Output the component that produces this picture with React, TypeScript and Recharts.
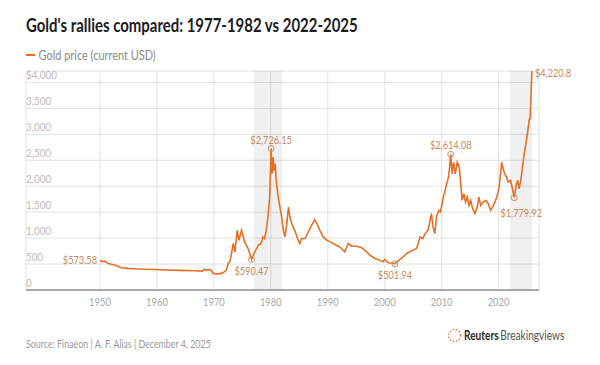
import React from 'react';
import { LineChart, Line, XAxis, YAxis, CartesianGrid, ReferenceArea, ReferenceDot } from 'recharts';

const years = [
  1950.0, 1950.4, 1950.8, 1951.4, 1952.0, 1952.6, 1953.2, 1953.8, 1954.9, 1956.0,
  1958.0, 1960.8, 1962.0, 1964.0, 1966.6, 1968.0, 1968.3, 1968.7, 1969.1, 1969.5,
  1969.9, 1970.7, 1971.6, 1972.2, 1972.5, 1972.8, 1973.1, 1973.4, 1973.7, 1974.1,
  1974.4, 1974.85, 1975.1, 1975.4, 1976.0, 1976.3, 1976.6, 1977.0, 1977.2, 1977.5,
  1977.8, 1978.1, 1978.4, 1978.6, 1978.9, 1979.2, 1979.5, 1979.8, 1980.05, 1980.2,
  1980.4, 1980.55, 1980.75, 1981.0, 1981.3, 1981.6, 1981.9, 1982.2, 1982.5, 1982.8,
  1983.1, 1983.35, 1983.6, 1983.9, 1984.2, 1984.5, 1984.8, 1985.1, 1985.4, 1986.0,
  1986.3, 1986.7, 1987.15, 1987.7, 1988.1, 1988.6, 1989.2, 1989.8, 1990.4, 1990.95,
  1991.5, 1992.1, 1992.4, 1993.0, 1993.6, 1994.2, 1995.1, 1995.9, 1996.5, 1997.4,
  1998.3, 1999.1, 1999.7, 2000.0, 2000.6, 2001.2, 2001.8, 2002.1, 2002.7, 2003.25,
  2003.85, 2004.4, 2005.0, 2005.6, 2005.9, 2006.2, 2006.7, 2007.1, 2007.6, 2007.9,
  2008.2, 2008.5, 2008.8, 2009.1, 2009.5, 2009.8, 2010.3, 2010.75, 2011.2, 2011.4,
  2011.6, 2011.85, 2012.1, 2012.4, 2012.75, 2013.1, 2013.3, 2013.6, 2013.9, 2014.2,
  2014.5, 2014.8, 2015.1, 2015.45, 2015.85, 2016.25, 2016.55, 2016.85, 2017.3, 2017.8,
  2018.2, 2018.6, 2019.1, 2019.7, 2020.1, 2020.55, 2020.8, 2021.1, 2021.4, 2021.7,
  2022.1, 2022.45, 2022.75, 2023.15, 2023.35, 2023.6, 2023.9, 2024.2, 2024.5, 2024.8,
  2025.1, 2025.4, 2025.55, 2025.7, 2025.85,
];

const prices = [
  573.58, 545, 556, 512, 495, 480, 455, 428, 416, 410,
  400, 390, 385, 378, 371, 365, 400, 380, 397, 380,
  320, 307, 332, 384, 512, 543, 704, 896, 735, 1151,
  960, 1151, 1055, 927, 800, 700, 590.47, 690, 735, 800,
  864, 880, 927, 1023, 992, 1151, 1407, 1791, 2726.15, 2239,
  2558, 2303, 2431, 2047, 1791, 1599, 1407, 1151, 1023, 1280,
  1599, 1407, 1311, 1215, 1151, 1055, 960, 896, 992, 992,
  1055, 1151, 1247, 1356, 1280, 1151, 1023, 960, 927, 896,
  864, 831, 800, 735, 896, 844, 844, 819, 768, 672,
  608, 576, 543, 589, 524, 520, 501.94, 543, 589, 640,
  704, 735, 768, 800, 896, 1023, 992, 1087, 1151, 1300,
  1471, 1215, 1087, 1407, 1535, 1503, 1791, 1983, 2175, 2367,
  2614.08, 2239, 2462, 2239, 2462, 2367, 2111, 1727, 1855, 1695,
  1791, 1631, 1727, 1567, 1471, 1599, 1791, 1631, 1695, 1727,
  1663, 1535, 1631, 1791, 1983, 2462, 2335, 2239, 2175, 2079,
  2111, 1951, 1779.92, 2047, 2111, 1951, 2111, 2367, 2623, 2815,
  3038, 3295, 3300, 3775, 4220.8,
];

const xTicks = [1950, 1960, 1970, 1980, 1990, 2000, 2010, 2020];
const yTicks = [0, 500, 1000, 1500, 2000, 2500, 3000, 3500, 4000];
const rallyStarts = [1977, 2022];
const rallyEnds = [1982, 2025.9];

const noteYears = [1950.0, 1976.6, 1980.05, 2001.8, 2011.6, 2022.75, 2025.85];
const noteValues = [573.58, 590.47, 2726.15, 501.94, 2614.08, 1779.92, 4220.8];
const noteLabels = ['$573.58', '$590.47', '$2,726.15', '$501.94', '$2,614.08', '$1,779.92', '$4,220.8'];

// placement styles for each annotation (pixel offsets relative to the point)
const notePlacement = [
  { anchor: 'end', dx: -3, dy: 4, ring: false },
  { anchor: 'middle', dx: 0, dy: 16, ring: true },
  { anchor: 'middle', dx: 0, dy: -5, ring: true },
  { anchor: 'middle', dx: 0, dy: 15, ring: true },
  { anchor: 'middle', dx: 0, dy: -5, ring: true },
  { anchor: 'middle', dx: 7, dy: 19, ring: true },
  { anchor: 'start', dx: 3, dy: 6, ring: false },
];

const data = years.map((y, i) => ({ year: y, price: prices[i] }));

const FONT = "Lato, 'Noto Sans', sans-serif";
const LINE = '#e46f25';
const NOTE = '#c98b62';
const PLOT_LEFT = 26;

const fmtY = (v: number) => (v === 4000 ? '$4,000' : v === 0 ? '0' : v.toLocaleString('en-US'));

const NarrowText = ({ x, y, anchor = 'start', fill, size, sx = 0.86, weight = 400, children }: any) => (
  <g transform={`translate(${x},${y}) scale(${sx},1)`}>
    <text x={0} y={0} fill={fill} fontSize={size} fontWeight={weight} fontFamily={FONT} textAnchor={anchor}>
      {children}
    </text>
  </g>
);

const YTick = (props: any) => {
  const { y, payload } = props;
  return (
    <NarrowText x={PLOT_LEFT} y={y - 3} fill="#bdbdbd" size={11.5}>
      {fmtY(payload.value)}
    </NarrowText>
  );
};

const XTick = (props: any) => {
  const { x, y, payload } = props;
  return (
    <NarrowText x={x} y={y + 16} fill="#a8a8a8" size={11.5} sx={0.82} anchor="middle">
      {payload.value}
    </NarrowText>
  );
};

const makeShape = (i: number) => (p: any) => {
  const pl = notePlacement[i];
  return (
    <g>
      {pl.ring && <circle cx={p.cx} cy={p.cy} r={3} fill="none" stroke={NOTE} strokeWidth={1} />}
      <NarrowText x={p.cx + pl.dx} y={p.cy + pl.dy} fill={NOTE} size={11.5} sx={0.8} anchor={pl.anchor}>
        {noteLabels[i]}
      </NarrowText>
    </g>
  );
};

const squeeze = (s: number): React.CSSProperties => ({ transform: `scaleX(${s})`, transformOrigin: 'left center' });

export default function App() {
  return (
    <div style={{ position: 'absolute', left: 0, top: 0, width: 600, height: 365, background: '#fff', fontFamily: FONT }}>
      <LineChart width={600} height={365} data={data} margin={{ top: 71, right: 61, bottom: 55, left: 0 }}>
        {rallyStarts.map((s, i) => (
          <ReferenceArea key={'r' + i} x1={s} x2={rallyEnds[i]} fill="#000" fillOpacity={0.06} stroke="none" ifOverflow="hidden" />
        ))}
        <CartesianGrid stroke="#e2e2e2" strokeWidth={1} />
        <XAxis
          dataKey="year"
          type="number"
          domain={[1937, 2027.1]}
          ticks={xTicks}
          allowDataOverflow
          axisLine={{ stroke: '#a9a9a9', strokeWidth: 2 }}
          tickLine={false}
          tickSize={0}
          tickMargin={0}
          height={20}
          tick={<XTick />}
        />
        <YAxis
          type="number"
          domain={[0, 4220.8]}
          ticks={yTicks}
          width={PLOT_LEFT}
          axisLine={false}
          tickLine={false}
          tick={<YTick />}
          interval={0}
          allowDataOverflow
        />
        <Line type="linear" dataKey="price" stroke={LINE} strokeWidth={1.6} dot={false} isAnimationActive={false} />
        {noteYears.map((yr, i) => (
          <ReferenceDot key={'n' + i} x={yr} y={noteValues[i]} r={3} shape={makeShape(i)} ifOverflow="visible" />
        ))}
      </LineChart>

      <div style={{ position: 'absolute', left: 26, top: 14, fontSize: 18, fontWeight: 700, color: '#1b1b1b', whiteSpace: 'nowrap', ...squeeze(0.83) }}>
        Gold's rallies compared: 1977-1982 vs 2022-2025
      </div>
      <div style={{ position: 'absolute', left: 26, top: 47, display: 'flex', alignItems: 'center', fontSize: 13, color: '#8a8a8a', whiteSpace: 'nowrap', ...squeeze(0.84) }}>
        <span style={{ display: 'inline-block', width: 11, height: 2, background: LINE, marginRight: 4 }} />
        Gold price (current USD)
      </div>
      <div style={{ position: 'absolute', left: 26, top: 337, fontSize: 11.5, color: '#9a9a9a', whiteSpace: 'nowrap', ...squeeze(0.77) }}>
        Source: Finaeon | A. F. Alias | December 4, 2025
      </div>
      <div style={{ position: 'absolute', left: 447, top: 327, display: 'flex', alignItems: 'center', whiteSpace: 'nowrap', fontSize: 13 }}>
        <svg width={15} height={15} style={{ marginRight: 2 }}>
          <circle cx={7.5} cy={7.5} r={6} fill="none" stroke="#e46f25" strokeWidth={1.6} strokeDasharray="1.2 2" />
        </svg>
        <span style={{ display: 'inline-block', ...squeeze(0.78) }}>
          <span style={{ fontWeight: 700, color: '#2a2a2a' }}>Reuters</span>
          <span style={{ color: '#555', marginLeft: 2 }}>Breakingviews</span>
        </span>
      </div>
    </div>
  );
}
